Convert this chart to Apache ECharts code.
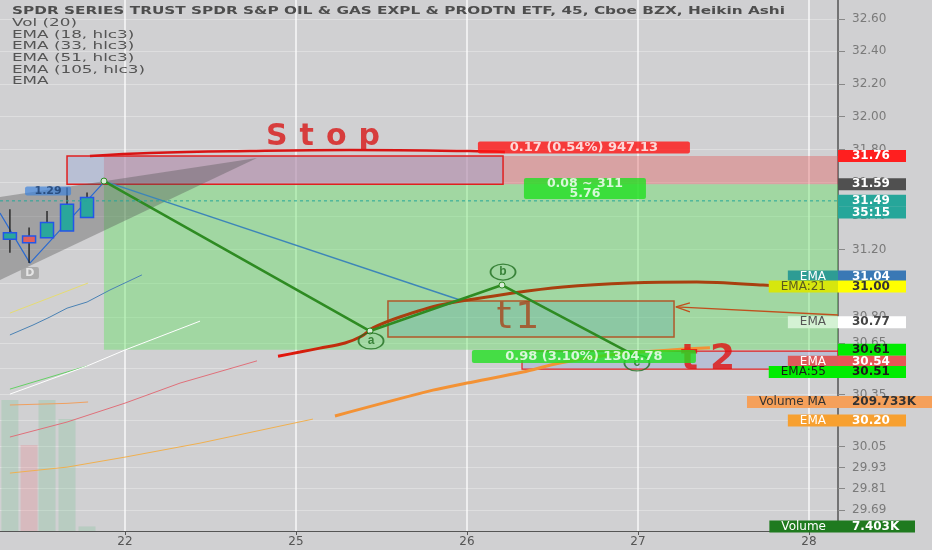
<!DOCTYPE html>
<html><head><meta charset="utf-8">
<script src="https://cdn.jsdelivr.net/npm/echarts@6/dist/echarts.min.js"></script>
<style>html,body{margin:0;padding:0;background:#d0d0d2}#c{width:932px;height:550px}</style>
</head><body><div id="c"></div>
<script>
// ---------- data ----------
const headerText = 'SPDR SERIES TRUST SPDR S&P OIL & GAS EXPL & PRODTN ETF, 45, Cboe BZX, Heikin Ashi';
const indicatorNames = ['Vol (20)', 'EMA (18, hlc3)', 'EMA (33, hlc3)', 'EMA (51, hlc3)', 'EMA (105, hlc3)', 'EMA'];

const dayTicks = [0, 1, 2, 3, 4];
const dayLabels = ['22', '25', '26', '27', '28'];
const priceTicks = [32.6, 32.4, 32.2, 32.0, 31.8, 31.6, 31.4, 31.2, 31.0, 30.8, 30.65, 30.5, 30.35, 30.2, 30.05, 29.93, 29.81, 29.69];

const X_MIN = -0.731, X_MAX = 4.17, Y_MIN = 29.571, Y_MAX = 32.718, VOL_MAX = 863300;

// Heikin Ashi candles
const candleX     = [-0.673, -0.561, -0.456, -0.339, -0.222];
const candleOpen  = [31.26, 31.28, 31.27, 31.31, 31.39];
const candleClose = [31.30, 31.24, 31.36, 31.47, 31.51];
const candleLow   = [31.18, 31.12, 31.27, 31.31, 31.39];
const candleHigh  = [31.44, 31.33, 31.43, 31.57, 31.54];
const volume      = [213000, 139800, 213000, 182100, 7403];
const volumeMA    = [[-0.673, 204850], [-0.339, 207500], [-0.216, 209733]];

// Long position tool
const entryPrice = 31.59, stopPrice = 31.76, targetPrice = 30.61, currentPrice = 31.49, zoneStartX = -0.123;

// drawn boxes [x1, y1, x2, y2]
const boxes = [
  [zoneStartX, entryPrice, X_MAX, stopPrice],
  [zoneStartX, targetPrice, X_MAX, entryPrice],
  [-0.339, entryPrice, 2.211, stopPrice],
  [1.538, 30.684, 3.211, 30.895],
  [2.322, 30.497, X_MAX, 30.602]
];

// harmonic wedge and zigzag
const wedge = [[X_MIN, 31.513], [0.772, 31.748], [X_MIN, 31.019]];
const zigzag = [[X_MIN, 31.417], [-0.556, 31.119], [-0.123, 31.603]];

// ABC wave
const waveLine = [[-0.123, 31.609], [1.433, 30.719], [2.205, 30.989], [2.988, 30.572]];
const waveRay = [[-0.123, 31.609], [1.959, 30.901]];
const waveNames = ['a', 'b', 'c'];
const wavePos = [[1.439, 30.661], [2.211, 31.066], [2.994, 30.533]];

// EMAs
const emaBrown = [[0.895, 30.572], [1.023, 30.596], [1.140, 30.619], [1.287, 30.649], [1.386, 30.690], [1.450, 30.737],
  [1.608, 30.801], [1.842, 30.872], [2.269, 30.942], [2.561, 30.978], [2.953, 31.001], [3.345, 31.007], [3.731, 30.989], [4.170, 30.962]];
const emaOrange = [[1.228, 30.226], [1.801, 30.375], [2.0, 30.416], [2.327, 30.480], [2.544, 30.533], [2.895, 30.586], [3.421, 30.621]];
const emaYellowThin = [[-0.673, 30.824], [-0.216, 31.001]];
const emaBlueThin = [[-0.673, 30.696], [-0.538, 30.754], [-0.439, 30.801], [-0.339, 30.853], [-0.222, 30.889], [-0.088, 30.960], [0.099, 31.049]];
const emaGreenThin = [[-0.673, 30.381], [-0.222, 30.515]];
const emaWhiteThin = [[-0.673, 30.352], [-0.222, 30.515], [0, 30.608], [0.439, 30.777]];
const emaPinkThin = [[-0.673, 30.105], [-0.339, 30.191], [0, 30.300], [0.322, 30.416], [0.772, 30.545]];
const emaOrangeThin = [[-0.673, 29.899], [-0.339, 29.933], [0, 29.990], [0.439, 30.070], [1.099, 30.208]];

// hand drawn strokes
const stopStroke = [[-0.205, 31.760], [0.146, 31.778], [0.731, 31.790], [1.316, 31.796], [2.018, 31.790], [2.222, 31.784]];
const arrowShaft = [[4.17, 30.813], [3.222, 30.860]];
const arrowHead = [[3.304, 30.884], [3.222, 30.860], [3.304, 30.831]];

// texts
const handText = ['Stop', 't1', 't2'];
const handPos = [[1.158, 31.875], [2.298, 30.795], [3.409, 30.551]];
const noteText = ['0.17 (0.54%) 947.13', '0.08 ~ 311\n5.76', '0.98 (3.10%) 1304.78', '1.29', 'D'];
const notePos = [[2.684, 31.812], [2.690, 31.564], [2.684, 30.570], [-0.45, 31.549], [-0.556, 31.060]];

// right axis tags
const tagText = ['31.76', '31.59', '31.49', '35:15', '31.04', '31.00', '30.77', '30.61', '30.54', '30.51', '30.20'];
const tagAt   = [31.76, 31.59, 31.49, 31.417, 31.04, 30.983, 30.77, 30.61, 30.54, 30.476, 30.20];
const tagName = ['', '', '', '', 'EMA', 'EMA:21', 'EMA', '', 'EMA', 'EMA:55', 'EMA'];
const volTagText = ['209.733K', '7.403K'];
const volTagAt = [209733, 7403];
const volTagName = ['Volume MA', 'Volume'];

// ---------- styles ----------
const boxStyles = [
  { fill: 'rgba(228,86,86,0.38)' },
  { fill: 'rgba(90,225,90,0.40)' },
  { fill: 'rgba(150,168,215,0.42)', stroke: '#e02020', lw: 1.5 },
  { fill: 'rgba(70,150,170,0.22)', stroke: '#b0582a', lw: 1.5 },
  { fill: 'rgba(150,168,215,0.42)', stroke: '#e02020', lw: 1.2 }
];
const handStyles = [
  { color: '#d81818', fontSize: 30, fontWeight: 'bold', letterPad: 6 },
  { color: '#a8461c', fontSize: 38, fontWeight: 'normal', letterPad: 2 },
  { color: '#e01010', fontSize: 36, fontWeight: 'bold', letterPad: 6 }
];
const noteStyles = [
  { backgroundColor: '#ff1414', color: '#fff', fontSize: 13, fontWeight: 'bold', width: 200, padding: [0, 6], lineHeight: 12 },
  { backgroundColor: '#22e022', color: '#fff', fontSize: 12.5, fontWeight: 'bold', width: 110, padding: [0, 6], lineHeight: 10.5 },
  { backgroundColor: '#22e022', color: '#fff', fontSize: 13, fontWeight: 'bold', width: 212, padding: [0, 6], lineHeight: 13 },
  { backgroundColor: 'rgba(60,130,220,0.85)', color: '#1c3d6e', fontSize: 11, fontWeight: 'bold', width: 30, padding: [0, 8], lineHeight: 9 },
  { backgroundColor: '#a3a3a3', color: '#f4f4f4', fontSize: 11, fontWeight: 'bold', width: 10, padding: [1, 4], lineHeight: 10 }
];
const tagBg = ['#ff1f1f', '#505050', '#26a69a', '#26a69a', '#3a78b5', '#ffff00', '#ffffff', '#00ec00', '#e85656', '#00ec00', '#f7a030'];
const tagFg = ['#fff', '#fff', '#fff', '#fff', '#fff', '#333', '#444', '#1a1a1a', '#fff', '#1a1a1a', '#fff'];
const nameBg = ['', '', '', '', '#2e9c94', '#d6e60e', '#d4f2d4', '', '#dd5a5a', '#00ec00', '#f7a030'];
const nameFg = ['', '', '', '', '#fff', '#5a5a20', '#555', '', '#fff', '#1a1a1a', '#fff'];
const volTagBg = ['#f5a05a', '#1f7a1f'];
const volTagFg = ['#333', '#fff'];
const volTagW = [80, 63];

// ---------- build ----------
const candles = candleX.map((x, i) => [x, candleOpen[i], candleClose[i], candleLow[i], candleHigh[i]]);
const volData = candleX.map((x, i) => ({
  value: [x, volume[i]],
  itemStyle: { color: candleClose[i] >= candleOpen[i] ? 'rgba(100,190,130,0.22)' : 'rgba(240,110,120,0.22)' }
}));

function tagLines(texts, ats, names, bg, fg, nbg, nfg, widths) {
  const out = [];
  texts.forEach((t, i) => {
    out.push({
      yAxis: ats[i],
      label: {
        show: true, position: 'end', distance: 0, formatter: t, opacity: 1,
        backgroundColor: bg[i], color: fg[i], fontSize: 12, fontWeight: 'bold',
        fontFamily: 'DejaVu Sans', width: widths ? widths[i] : 54, padding: [1, 0, 0, 14], lineHeight: 11
      }
    });
    if (names[i]) {
      out.push({
        yAxis: ats[i],
        label: {
          show: true, position: 'insideEnd', distance: 0, formatter: names[i], opacity: 1,
          backgroundColor: nbg[i], color: nfg[i], fontSize: 12, fontWeight: 'normal',
          fontFamily: 'DejaVu Sans', padding: [1, 12, 0, 12], lineHeight: 11
        }
      });
    }
  });
  return out;
}
const hiddenMarkLine = (data) => ({
  silent: true, symbol: ['none', 'none'], animation: false,
  lineStyle: { color: 'rgba(0,0,0,0)', width: 0, type: 'solid' },
  emphasis: { disabled: true },
  label: { show: true, opacity: 1 },
  data: data
});

function thin(data, color) {
  return { type: 'line', data: data, showSymbol: false, silent: true, z: 3,
    lineStyle: { color: color, width: 1 } };
}
function spaced(text) {
  return text.split('').map(ch => '{l|' + ch + '}').join('');
}

const chart = echarts.init(document.getElementById('c'));

// text scaling for header (reference text is horizontally stretched)
const ctx = document.createElement('canvas').getContext('2d');
ctx.font = 'bold 10.5px "DejaVu Sans"';
const headerScale = 773 / ctx.measureText(headerText).width;
ctx.font = '10.5px "DejaVu Sans"';
const indScale = 133 / ctx.measureText('EMA (105, hlc3)').width;

const graphics = [{
  type: 'text', x: 12, y: 11, scaleX: headerScale, z: 100,
  style: { text: headerText, font: 'bold 10.5px "DejaVu Sans"', fill: '#4d4d4d', verticalAlign: 'middle' }
}].concat(indicatorNames.map((t, i) => ({
  type: 'text', x: 12, y: 23.3 + i * 11.67, scaleX: indScale, z: 100,
  style: { text: t, font: '10.5px "DejaVu Sans"', fill: '#555', verticalAlign: 'middle' }
})));

const option = {
  backgroundColor: '#d0d0d2',
  animation: false,
  grid: { left: 0, right: 94, top: 0, bottom: 19 },
  graphic: graphics,
  xAxis: {
    type: 'value', min: X_MIN, max: X_MAX,
    axisLine: { show: true, onZero: false, lineStyle: { color: '#555', width: 1.2 } },
    axisTick: { show: true, customValues: dayTicks, length: 4, lineStyle: { color: '#555' } },
    axisLabel: { customValues: dayTicks, formatter: v => dayLabels[dayTicks.indexOf(Math.round(v))] || '',
      color: '#555', fontSize: 12, margin: 5, fontFamily: 'DejaVu Sans' },
    splitLine: { show: true, lineStyle: { color: 'rgba(255,255,255,0.85)', width: 1.5 } }
  },
  yAxis: [{
    type: 'log', min: Y_MIN, max: Y_MAX, position: 'right',
    axisLine: { show: true, onZero: false, lineStyle: { color: '#555', width: 1.5 } },
    axisTick: { show: true, customValues: priceTicks, length: 7, lineStyle: { color: '#888' } },
    axisLabel: { customValues: priceTicks, formatter: v => v.toFixed(2), color: '#7a7a7a', fontSize: 12,
      margin: 14, fontFamily: 'DejaVu Sans' },
    splitLine: { show: true, lineStyle: { color: 'rgba(255,255,255,0.3)', width: 1 } }
  }, {
    type: 'value', min: 0, max: VOL_MAX, show: false, position: 'right', splitLine: { show: false },
    axisLine: { onZero: false }
  }],
  series: [
    { // zones and drawn boxes
      type: 'custom', z: 1, silent: true,
      data: boxes, encode: { x: [0, 2], y: [1, 3] },
      renderItem: (params, api) => {
        const p1 = api.coord([api.value(0), api.value(1)]);
        const p2 = api.coord([api.value(2), api.value(3)]);
        const s = boxStyles[params.dataIndex];
        return { type: 'rect',
          shape: { x: Math.min(p1[0], p2[0]), y: Math.min(p1[1], p2[1]), width: Math.abs(p2[0] - p1[0]), height: Math.abs(p2[1] - p1[1]) },
          style: { fill: s.fill, stroke: s.stroke || null, lineWidth: s.lw || 0 } };
      }
    },
    { // volume
      type: 'bar', yAxisIndex: 1, data: volData, barWidth: 17, z: 2, silent: true,
      markLine: hiddenMarkLine(tagLines(volTagText, volTagAt, volTagName, volTagBg, volTagFg, volTagBg, volTagFg, volTagW))
    },
    { type: 'line', yAxisIndex: 1, data: volumeMA, showSymbol: false, silent: true, z: 3, lineStyle: { color: '#f0a060', width: 1 } },
    thin(emaYellowThin, '#e6dc72'),
    thin(emaBlueThin, '#4a82b4'),
    thin(emaGreenThin, '#66d066'),
    thin(emaWhiteThin, '#ffffff'),
    thin(emaPinkThin, '#e0707a'),
    thin(emaOrangeThin, '#f0b050'),
    { // harmonic wedge
      type: 'custom', z: 3, silent: true, data: wedge, encode: { x: 0, y: 1 },
      renderItem: (params, api) => {
        if (params.dataIndex !== 0) return null;
        return { type: 'polygon', shape: { points: wedge.map(p => api.coord(p)) },
          style: { fill: 'rgba(85,85,85,0.38)', stroke: null } };
      }
    },
    { type: 'line', data: zigzag, showSymbol: false, silent: true, z: 3, lineStyle: { color: '#2a6ad0', width: 1.2 } },
    { // current price dashed line + price tags
      type: 'line', data: [[X_MIN, currentPrice], [X_MAX, currentPrice]], showSymbol: false, silent: true, z: 9,
      lineStyle: { color: '#26a69a', width: 1, type: [3, 3] },
      markLine: hiddenMarkLine(tagLines(tagText, tagAt, tagName, tagBg, tagFg, nameBg, nameFg))
    },
    { type: 'line', data: waveRay, showSymbol: false, silent: true, z: 4, lineStyle: { color: '#3d86b8', width: 1.4 } },
    { type: 'line', data: emaOrange, showSymbol: false, silent: true, z: 4, smooth: 0.3, lineStyle: { color: '#f39235', width: 3 } },
    { type: 'line', data: emaBrown, showSymbol: false, silent: true, z: 4, smooth: 0.3,
      lineStyle: { width: 3, color: new echarts.graphic.LinearGradient(0, 0, 1, 0, [
        { offset: 0, color: '#e8100c' }, { offset: 0.1, color: '#c22c0c' }, { offset: 0.2, color: '#a8400f' }, { offset: 1, color: '#a8400f' }]) } },
    { type: 'line', data: waveLine, silent: true, z: 5, showSymbol: true, symbol: 'circle', symbolSize: 6,
      itemStyle: { color: '#d8ecd8', borderColor: '#2e8b22', borderWidth: 1 },
      lineStyle: { color: '#2e8b22', width: 2.6 } },
    { type: 'line', data: stopStroke, showSymbol: false, silent: true, z: 5, smooth: 0.4, lineStyle: { color: '#d81414', width: 2.5 } },
    { type: 'line', data: arrowShaft, showSymbol: false, silent: true, z: 5, lineStyle: { color: '#c0501e', width: 1.3 } },
    { type: 'line', data: arrowHead, showSymbol: false, silent: true, z: 5, lineStyle: { color: '#c0501e', width: 1.3 } },
    { // candles
      type: 'custom', z: 6, silent: true, data: candles, encode: { x: 0, y: [1, 2, 3, 4] },
      renderItem: (params, api) => {
        const x = api.value(0);
        const o = api.coord([x, api.value(1)]), c = api.coord([x, api.value(2)]);
        const l = api.coord([x, api.value(3)]), h = api.coord([x, api.value(4)]);
        const up = api.value(2) >= api.value(1);
        const w = 13;
        return { type: 'group', children: [
          { type: 'line', shape: { x1: h[0], y1: h[1], x2: l[0], y2: l[1] }, style: { stroke: '#1a1a1a', lineWidth: 1.3 } },
          { type: 'rect', shape: { x: o[0] - w / 2, y: Math.min(o[1], c[1]), width: w, height: Math.max(1, Math.abs(o[1] - c[1])) },
            style: { fill: up ? '#2aa79b' : '#e0605e', stroke: '#2356e8', lineWidth: 1.5 } }
        ] };
      }
    },
    { // wave labels
      type: 'scatter', z: 6, silent: true, symbol: 'circle', symbolSize: [25, 16],
      itemStyle: { color: 'rgba(0,0,0,0)', borderColor: '#1f6e1f', borderWidth: 1.5 },
      label: { show: true, position: 'inside', color: '#1f6e1f', fontSize: 12, fontWeight: 'bold', formatter: p => p.name },
      data: wavePos.map((p, i) => ({ name: waveNames[i], value: p }))
    },
    { // handwritten texts
      type: 'scatter', z: 7, silent: true, symbolSize: 0,
      data: handPos.map((p, i) => {
        const s = handStyles[i];
        return { value: p, label: { show: true, position: 'inside', formatter: spaced(handText[i]),
          rich: { l: { color: s.color, fontSize: s.fontSize, fontWeight: s.fontWeight, fontFamily: 'DejaVu Sans', padding: [0, s.letterPad] } } } };
      })
    },
    { // measurement labels
      type: 'scatter', z: 8, silent: true, symbolSize: 0,
      data: notePos.map((p, i) => ({ value: p, label: Object.assign({ show: true, position: 'inside', formatter: noteText[i],
        fontFamily: 'DejaVu Sans', align: 'center', borderRadius: 2 }, noteStyles[i]) }))
    }
  ]
};
chart.setOption(option);
</script>
</body></html>
